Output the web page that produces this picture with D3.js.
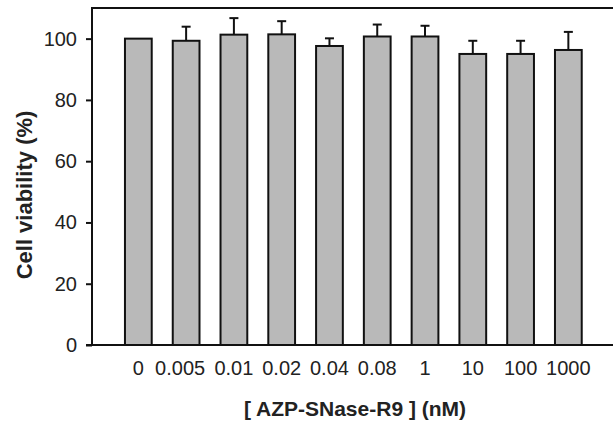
<!DOCTYPE html>
<html>
<head>
<script src="https://cdn.jsdelivr.net/npm/d3@7/dist/d3.min.js"></script>
<style>
  body { margin: 0; background: #fff; overflow: hidden; }
  text { font-family: "Liberation Sans", Arial, sans-serif; fill: #222; }
</style>
</head>
<body>
<div id="chart"></div>
<script>
// concentrations of AZP-SNase-R9 (nM)
var doses = ["0", "0.005", "0.01", "0.02", "0.04", "0.08", "1", "10", "100", "1000"];
// cell viability (%) and SD
var viability = [100, 99.3, 101.3, 101.4, 97.6, 100.7, 100.7, 95.0, 95.0, 96.3];
var errors = [0, 4.6, 5.4, 4.3, 2.5, 3.9, 3.5, 4.3, 4.3, 5.9];
var yTicks = [0, 20, 40, 60, 80, 100];

var width = 613, height = 423;
var mLeft = 92, mTop = 8, mBottom = 345;

var svg = d3.select("#chart").append("svg")
    .attr("width", width)
    .attr("height", height);

var x = d3.scaleBand()
    .domain(doses)
    .range([mLeft, 614.7])
    .paddingInner(0.44)
    .paddingOuter(0.69);

var y = d3.scaleLinear()
    .domain([0, 110])
    .range([mBottom, mTop]);

// bars
svg.selectAll("rect.bar")
    .data(doses)
    .enter().append("rect")
    .attr("class", "bar")
    .attr("x", function (d) { return x(d); })
    .attr("width", x.bandwidth())
    .attr("y", function (d, i) { return y(viability[i]); })
    .attr("height", function (d, i) { return y(0) - y(viability[i]); })
    .style("fill", "#b9b9b9")
    .style("stroke", "#111")
    .style("stroke-width", 2);

// error bars (upper only)
var eb = svg.selectAll("g.err")
    .data(doses.filter(function (d, i) { return errors[i] > 0; }))
    .enter().append("g")
    .attr("class", "err");

eb.append("line")
    .attr("x1", function (d) { return x(d) + x.bandwidth() / 2; })
    .attr("x2", function (d) { return x(d) + x.bandwidth() / 2; })
    .attr("y1", function (d) { var i = doses.indexOf(d); return y(viability[i]); })
    .attr("y2", function (d) { var i = doses.indexOf(d); return y(viability[i] + errors[i]); })
    .style("stroke", "#111")
    .style("stroke-width", 2);

eb.append("line")
    .attr("x1", function (d) { return x(d) + x.bandwidth() / 2 - 4.5; })
    .attr("x2", function (d) { return x(d) + x.bandwidth() / 2 + 4.5; })
    .attr("y1", function (d) { var i = doses.indexOf(d); return y(viability[i] + errors[i]); })
    .attr("y2", function (d) { var i = doses.indexOf(d); return y(viability[i] + errors[i]); })
    .style("stroke", "#111")
    .style("stroke-width", 2);

// y axis
var yAxis = svg.append("g")
    .attr("transform", "translate(" + mLeft + ",0)")
    .call(d3.axisLeft(y).tickValues(yTicks).tickSize(6).tickPadding(9));
yAxis.select(".domain").remove();
yAxis.selectAll(".tick line").style("stroke", "#111").style("stroke-width", 2);
yAxis.selectAll(".tick text")
    .style("font-size", "20px")
    .style("font-family", "'Liberation Sans', Arial, sans-serif")
    .attr("fill", "#222");

svg.append("line")
    .attr("x1", mLeft).attr("x2", mLeft)
    .attr("y1", mTop).attr("y2", mBottom)
    .style("stroke", "#111").style("stroke-width", 2);

// top frame line
svg.append("line")
    .attr("x1", mLeft - 1).attr("x2", width)
    .attr("y1", mTop).attr("y2", mTop)
    .style("stroke", "#111").style("stroke-width", 2);

// x axis line
svg.append("line")
    .attr("x1", mLeft - 6).attr("x2", width)
    .attr("y1", mBottom).attr("y2", mBottom)
    .style("stroke", "#111").style("stroke-width", 2);

// x tick labels
var xAxis = svg.append("g")
    .attr("transform", "translate(0," + mBottom + ")")
    .call(d3.axisBottom(x).tickSize(0).tickPadding(16));
xAxis.select(".domain").remove();
xAxis.selectAll(".tick text")
    .style("font-size", "20px")
    .style("font-family", "'Liberation Sans', Arial, sans-serif")
    .attr("fill", "#222")
    .attr("dx", function (d) { return d === "0.005" ? -6 : 0; });

// axis titles
svg.append("text")
    .attr("x", 355)
    .attr("y", 416)
    .attr("text-anchor", "middle")
    .style("font-size", "21px")
    .style("font-weight", "bold")
    .text("[ AZP-SNase-R9 ] (nM)");

svg.append("text")
    .attr("transform", "translate(32,195) rotate(-90)")
    .attr("text-anchor", "middle")
    .style("font-size", "22px")
    .style("font-weight", "bold")
    .text("Cell viability (%)");
</script>
</body>
</html>
